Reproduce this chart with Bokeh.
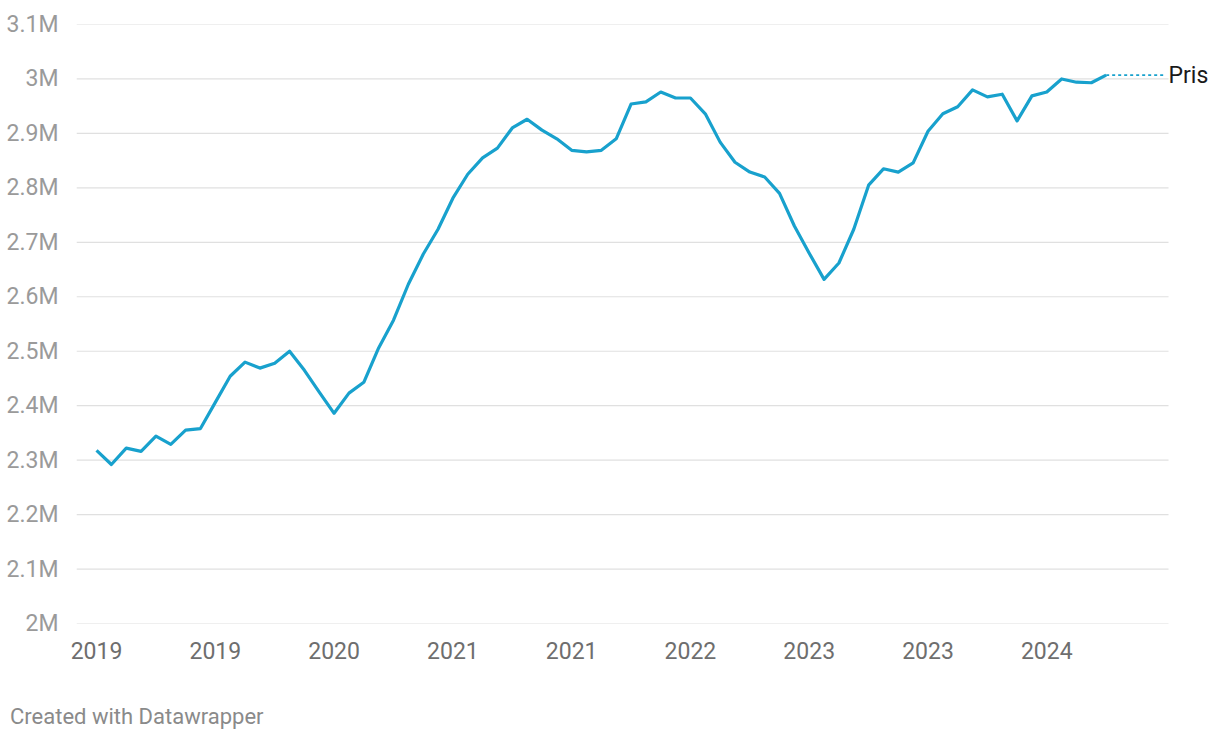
from bokeh.plotting import figure
from bokeh.models import FixedTicker, Label, Range1d, ColumnDataSource, Div
from bokeh.layouts import column
from bokeh.embed import file_html
from bokeh.resources import INLINE

# Monthly data, Jan 2019 .. Sep 2024
months = [f"{y}-{m:02d}" for y in range(2019, 2025) for m in range(1, 13)][:69]
price = [
    2.318, 2.292, 2.322, 2.316, 2.344, 2.329, 2.355, 2.358, 2.406, 2.454,
    2.480, 2.469, 2.478, 2.500, 2.465, 2.425, 2.386, 2.423, 2.443, 2.506,
    2.557, 2.623, 2.678, 2.724, 2.781, 2.825, 2.855, 2.873, 2.910, 2.926,
    2.906, 2.890, 2.869, 2.866, 2.869, 2.890, 2.954, 2.958, 2.976, 2.965,
    2.965, 2.936, 2.884, 2.847, 2.829, 2.820, 2.790, 2.730, 2.680, 2.632,
    2.662, 2.724, 2.805, 2.835, 2.829, 2.846, 2.904, 2.936, 2.949, 2.980,
    2.967, 2.972, 2.923, 2.969, 2.976, 3.000, 2.994, 2.993, 3.007,
]
price = [v * 1_000_000 for v in price]
y_ticks = [2.0e6 + i * 1e5 for i in range(12)]
y_labels = ["2M", "2.1M", "2.2M", "2.3M", "2.4M", "2.5M", "2.6M", "2.7M",
            "2.8M", "2.9M", "3M", "3.1M"]
x_ticks = [0, 8, 16, 24, 32, 40, 48, 56, 64]
x_labels = ["2019", "2019", "2020", "2021", "2021", "2022", "2023", "2023", "2024"]
series_name = "Pris"
footer = "Created with Datawrapper"

idx = list(range(len(months)))
src = ColumnDataSource(dict(x=idx, y=price, month=months))

FONT = "Roboto"
BLUE = "#18a1cd"
X_START, GRID_END, X_END = -1.35, 72.2, 75.7

p = figure(width=1220, height=704, output_backend="svg", toolbar_location=None,
           x_range=Range1d(X_START, X_END), y_range=Range1d(2.0e6, 3.1e6),
           min_border_left=76, min_border_right=0, min_border_top=24,
           min_border_bottom=81, margin=(0, 0, 0, 0))
p.outline_line_color = None
p.background_fill_color = "white"
p.border_fill_color = "white"

# axes
p.xaxis.ticker = FixedTicker(ticks=x_ticks)
p.xaxis.major_label_overrides = {t: l for t, l in zip(x_ticks, x_labels)}
p.yaxis.ticker = FixedTicker(ticks=y_ticks)
p.yaxis.major_label_overrides = {t: l for t, l in zip(y_ticks, y_labels)}
for ax in (p.xaxis, p.yaxis):
    ax.axis_line_color = None
    ax.major_tick_line_color = None
    ax.minor_tick_line_color = None
    ax.major_label_text_font = FONT
    ax.major_label_text_font_size = "23px"
p.xaxis.major_label_text_color = "#6e6e6e"
p.yaxis.major_label_text_color = "#9a9a9a"
p.xaxis.major_label_standoff = 12
p.yaxis.major_label_standoff = 12

p.xgrid.grid_line_color = None
p.ygrid.grid_line_color = None
# horizontal grid lines stop short of the label area
p.segment(x0=[X_START] * len(y_ticks), x1=[GRID_END] * len(y_ticks),
          y0=y_ticks, y1=y_ticks, line_color="#e0e0e0", line_width=1.2)

p.line("x", "y", source=src, line_color=BLUE, line_width=3.2, line_join="round")

# dotted connector to label
last_x = idx[-1]
last_y = price[-1]
p.line([last_x, 71.85], [last_y, last_y], line_color=BLUE, line_width=1.8,
       line_dash="3 3")
p.add_layout(Label(x=72.2, y=last_y, text=series_name, text_baseline="middle",
                   text_align="left", text_font=FONT, text_font_size="23px",
                   text_color="#1a1a1a", y_offset=0))

foot = Div(text=footer, width=1200, height=36, margin=(0, 0, 0, 10),
           styles={"font-family": FONT, "font-size": "22px", "color": "#8a8a8a",
                   "line-height": "26px", "white-space": "nowrap"})

layout = column(p, foot, spacing=0)
open("out.html", "w").write(file_html(layout, INLINE))
